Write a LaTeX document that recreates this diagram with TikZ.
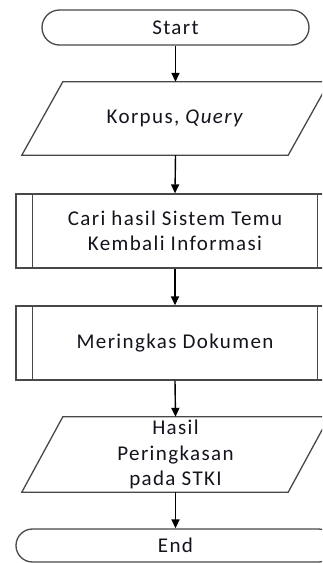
\documentclass[tikz,border=0pt]{standalone}
\usepackage{fontspec}
\setmainfont{Carlito}[LetterSpace=6.5]
\usetikzlibrary{arrows.meta,shapes.misc}
\definecolor{edgegray}{HTML}{484848}
\definecolor{txt}{HTML}{14141E}
\begin{document}
\begin{tikzpicture}[x=1pt,y=-1pt,
  base/.style={font=\fontsize{21}{25.5}\selectfont, text=txt, align=center, inner sep=0pt},
  terminal/.style={base, rounded rectangle, draw=edgegray, line width=1.3pt},
  iobox/.style={base, rectangle, draw=none},
  procbox/.style={base, rectangle, draw=edgegray, line width=1.3pt},
  outline/.style={draw=edgegray, line width=1.3pt, line join=miter},
  flow/.style={draw=black, line width=1.4pt, -{Triangle[length=9pt,width=8pt]}}]
\useasboundingbox (0,0) rectangle (322,563);
\clip (0,0) rectangle (322,563);
\fill[white] (0,0) rectangle (322,563);

\node[terminal, minimum width=267pt, minimum height=35pt] (start) at (175.5,27.5) {Start};
\node[iobox, minimum width=307pt, minimum height=73pt] (inp) at (175.5,118.5) {Korpus, \textit{Query}};
\node[procbox, minimum width=318pt, minimum height=74pt] (cari) at (175,231) {Cari hasil Sistem Temu\\Kembali Informasi};
\node[procbox, minimum width=318pt, minimum height=74pt] (ring) at (175,343) {Meringkas Dokumen};
\node[iobox, minimum width=307pt, minimum height=75pt] (hasil) at (175.5,454.5) {Hasil\\Peringkasan\\pada STKI};
\node[terminal, minimum width=319pt, minimum height=33pt] (end) at (175.5,545.5) {End};

% parallelograms
\path[outline] ([xshift=41pt]inp.north west) -- (inp.north east) -- ([xshift=-41pt]inp.south east) -- (inp.south west) -- cycle;
\path[outline] ([xshift=41pt]hasil.north west) -- (hasil.north east) -- ([xshift=-41pt]hasil.south east) -- (hasil.south west) -- cycle;
% predefined process inner lines
\foreach \n in {cari,ring}{
  \draw[outline] ([xshift=17pt]\n.north west) -- ([xshift=17pt]\n.south west);
  \draw[outline] ([xshift=-17pt]\n.north east) -- ([xshift=-17pt]\n.south east);
}

\draw[flow] (start.south) -- (inp.north);
\draw[flow] (inp.south) -- (cari.north);
\draw[flow] (cari.south) -- (ring.north);
\draw[flow] (ring.south) -- (hasil.north);
\draw[flow] (hasil.south) -- (end.north);
\end{tikzpicture}
\end{document}
